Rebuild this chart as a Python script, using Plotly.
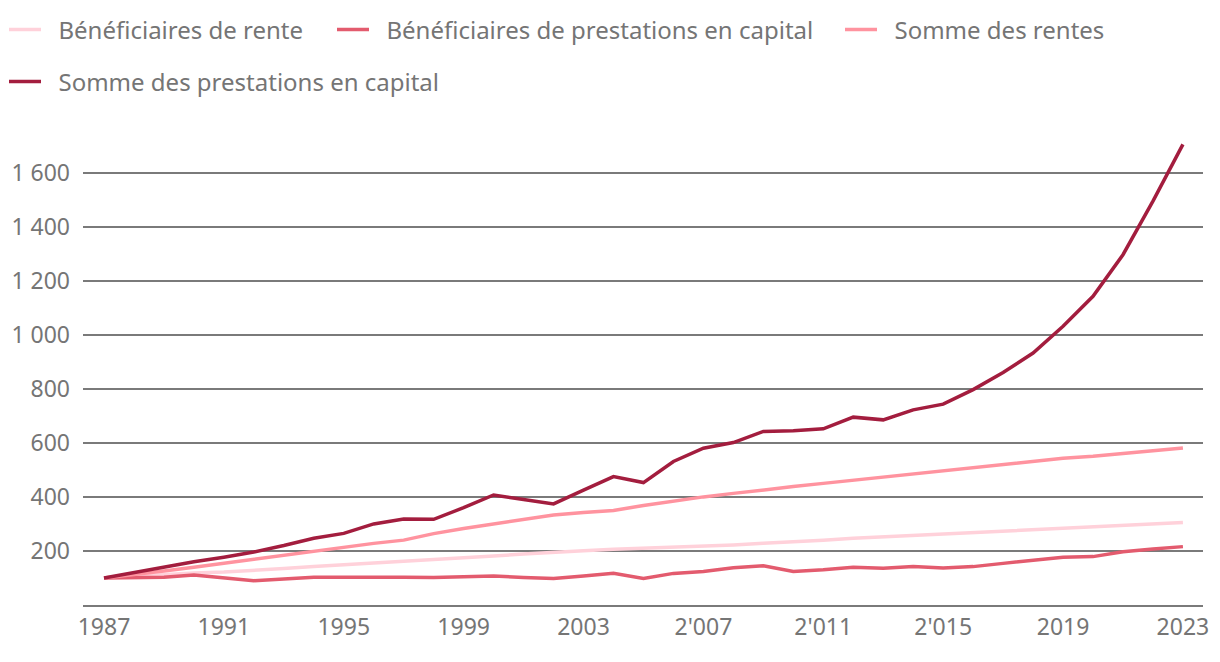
import plotly.graph_objects as go

years = list(range(1987, 2024))

beneficiaires_rente = [100, 107, 113, 118, 122, 127, 135, 142, 148, 154, 160, 166, 173, 181, 189, 196, 201, 206, 210, 213,
                       216, 222, 228, 233, 240, 247, 252, 257, 262, 268, 273, 279, 284, 289, 294, 300, 305]
beneficiaires_capital = [100, 101, 103, 111, 101, 90, 96, 103, 103, 104, 103, 102, 104, 107, 102, 98, 107, 117, 98, 117,
                         124, 138, 145, 124, 130, 140, 136, 142, 137, 142, 154, 167, 177, 179, 197, 207, 216]
somme_rentes = [100, 112, 126, 140, 155, 170, 185, 200, 213, 228, 240, 264, 283, 300, 317, 333, 342, 350, 368, 385,
                400, 413, 427, 438, 450, 462, 474, 486, 496, 508, 520, 531, 543, 550, 560, 573, 581]
somme_capital = [100, 120, 143, 160, 177, 196, 220, 247, 265, 300, 318, 317, 360, 407, 390, 374, 425, 475, 453, 531,
                 580, 601, 642, 645, 652, 695, 685, 722, 743, 797, 860, 932, 1031, 1142, 1296, 1494, 1704]

series_names = ["Bénéficiaires de rente", "Bénéficiaires de prestations en capital",
                "Somme des rentes", "Somme des prestations en capital"]
series_values = [beneficiaires_rente, beneficiaires_capital, somme_rentes, somme_capital]
colors = ["#ffd1da", "#e35b6e", "#ff939f", "#a31d3e"]

x_tickvals = [1987, 1991, 1995, 1999, 2003, 2007, 2011, 2015, 2019, 2023]
x_ticktext = ["1987", "1991", "1995", "1999", "2003", "2'007", "2'011", "2'015", "2019", "2023"]
y_tickvals = [200, 400, 600, 800, 1000, 1200, 1400, 1600]
y_ticktext = ["200", "400", "600", "800", "1 000", "1 200", "1 400", "1 600"]

# layout geometry (pixels, figure coords; page body adds an 8px offset)
W, H = 1212, 654
ML, MR, MT, MB = 75, 17, 124, 57
PW, PH = W - ML - MR, H - MT - MB

legend_ids = ["legend", "legend2", "legend3", "legend4"]
# legend box left and item center-y, in figure pixels
legend_px = [(-4, 22), (324, 22), (832, 22), (-4, 74)]
PAD = "\u00a0\u00a0"  # small gap between legend symbol and its text

fig = go.Figure()
for name, vals, col, lid in zip(series_names, series_values, colors, legend_ids):
    fig.add_trace(go.Scatter(x=years, y=vals, name=PAD + name, mode="lines",
                             line=dict(color=col, width=3.5), legend=lid))

legend_layout = {}
for lid, (px, py) in zip(legend_ids, legend_px):
    legend_layout[lid] = dict(
        x=(px - ML) / PW, xanchor="left",
        y=(H - MB - py) / PH, yanchor="middle",
        orientation="h", itemwidth=32,
        font=dict(family="Noto Sans", size=24, color="#757575"),
        bgcolor="rgba(0,0,0,0)",
    )

fig.update_layout(
    width=W, height=H,
    margin=dict(l=ML, r=MR, t=MT, b=MB, autoexpand=False),
    paper_bgcolor="white", plot_bgcolor="white",
    font=dict(family="Noto Sans", size=23, color="#757575"),
    showlegend=True,
    **legend_layout,
)
fig.update_xaxes(range=[1986.3, 2023.67], tickvals=x_tickvals, ticktext=x_ticktext,
                 showgrid=False, showline=True, linecolor="#7a7a7a", linewidth=2,
                 ticks="", zeroline=False, automargin=False)
fig.update_yaxes(range=[0, 1750], tickvals=y_tickvals, ticktext=y_ticktext,
                 showgrid=True, gridcolor="#7a7a7a", gridwidth=2, zeroline=False,
                 ticks="", ticklabelstandoff=12, automargin=False)

fig.write_html("out.html")
